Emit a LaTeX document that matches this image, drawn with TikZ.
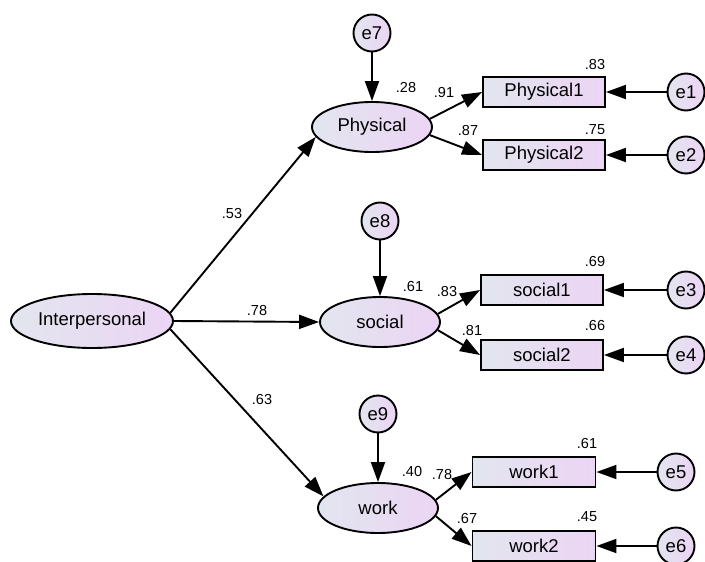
\documentclass[tikz,border=0pt]{standalone}
\usepackage{fontspec}
\setmainfont{Liberation Sans}
\usetikzlibrary{arrows.meta,shapes.geometric}
\definecolor{fillL}{RGB}{226,230,238}
\definecolor{fillR}{RGB}{236,212,245}
\begin{document}
\begin{tikzpicture}[x=1pt,y=-1pt,
  base/.style={draw=black,line width=1.9pt,left color=fillL,right color=fillR,
    font=\fontsize{18.5}{20}\selectfont,inner sep=0pt},
  latent/.style={base,ellipse,minimum width=120pt,minimum height=50pt},
  observed/.style={base,rectangle,minimum width=122pt,minimum height=30pt},
  errvar/.style={base,circle,minimum size=37pt},
  regpath/.style={line width=1.9pt,-{Triangle[length=20pt,width=14pt]}},
  coef/.style={font=\fontsize{14.5}{16}\selectfont,inner sep=0pt}]
\useasboundingbox (0,0) rectangle (705,562);

% latent variables
\node[latent,minimum width=162pt,minimum height=54pt] (inter) at (92,321) {Interpersonal};
\node[latent] (phys) at (372,127) {Physical};
\node[latent] (soc) at (380,322) {social};
\node[latent] (work) at (378,508) {work};

% disturbances
\node[errvar] (e7) at (372,33) {e7};
\node[errvar] (e8) at (380,221) {e8};
\node[errvar] (e9) at (378,414) {e9};

% indicators
\node[observed] (p1) at (544,92) {Physical1};
\node[observed] (p2) at (544,155) {Physical2};
\node[observed] (s1) at (542,290) {social1};
\node[observed] (s2) at (542,355) {social2};
\node[observed,minimum width=123pt] (w1) at (534,472) {work1};
\node[observed,minimum width=123pt] (w2) at (534,546) {work2};

% measurement errors
\node[errvar] (e1) at (686,92) {e1};
\node[errvar] (e2) at (686,155) {e2};
\node[errvar] (e3) at (686,290) {e3};
\node[errvar] (e4) at (686,355) {e4};
\node[errvar] (e5) at (676,472) {e5};
\node[errvar] (e6) at (676,546) {e6};

% structural paths
\draw[regpath] (inter.6) -- (phys.190);
\draw[regpath] (inter.east) -- (soc.west);
\draw[regpath] (inter.-6) -- (work.168);

% loadings
\draw[regpath] (phys.8) -- (p1.west);
\draw[regpath] (phys.-8) -- (p2.west);
\draw[regpath] (soc.8) -- (s1.west);
\draw[regpath] (soc.-8) -- (s2.west);
\draw[regpath] (work.8) -- (w1.west);
\draw[regpath] (work.-8) -- (w2.west);

% error terms
\draw[regpath] (e7) -- (phys);
\draw[regpath] (e8) -- (soc);
\draw[regpath] (e9) -- (work);
\draw[regpath] (e1) -- (p1);
\draw[regpath] (e2) -- (p2);
\draw[regpath] (e3) -- (s1);
\draw[regpath] (e4) -- (s2);
\draw[regpath] (e5) -- (w1);
\draw[regpath] (e6) -- (w2);

% standardized estimates
\node[coef] (c1) at (232,214) {.53};
\node[coef] (c2) at (257,311) {.78};
\node[coef] (c3) at (262,400) {.63};
\node[coef] (r1) at (406,88) {.28};
\node[coef] (c4) at (444,93) {.91};
\node[coef] (c5) at (468,131) {.87};
\node[coef] (r2) at (595,65) {.83};
\node[coef] (r3) at (595,130) {.75};
\node[coef] (r4) at (413,287) {.61};
\node[coef] (c6) at (447,292) {.83};
\node[coef] (c7) at (472,331) {.81};
\node[coef] (r5) at (595,262) {.69};
\node[coef] (r6) at (595,326) {.66};
\node[coef] (r7) at (412,472) {.40};
\node[coef] (c8) at (442,475) {.78};
\node[coef] (c9) at (467,519) {.67};
\node[coef] (r8) at (587,444) {.61};
\node[coef] (r9) at (587,517) {.45};
\end{tikzpicture}
\end{document}
